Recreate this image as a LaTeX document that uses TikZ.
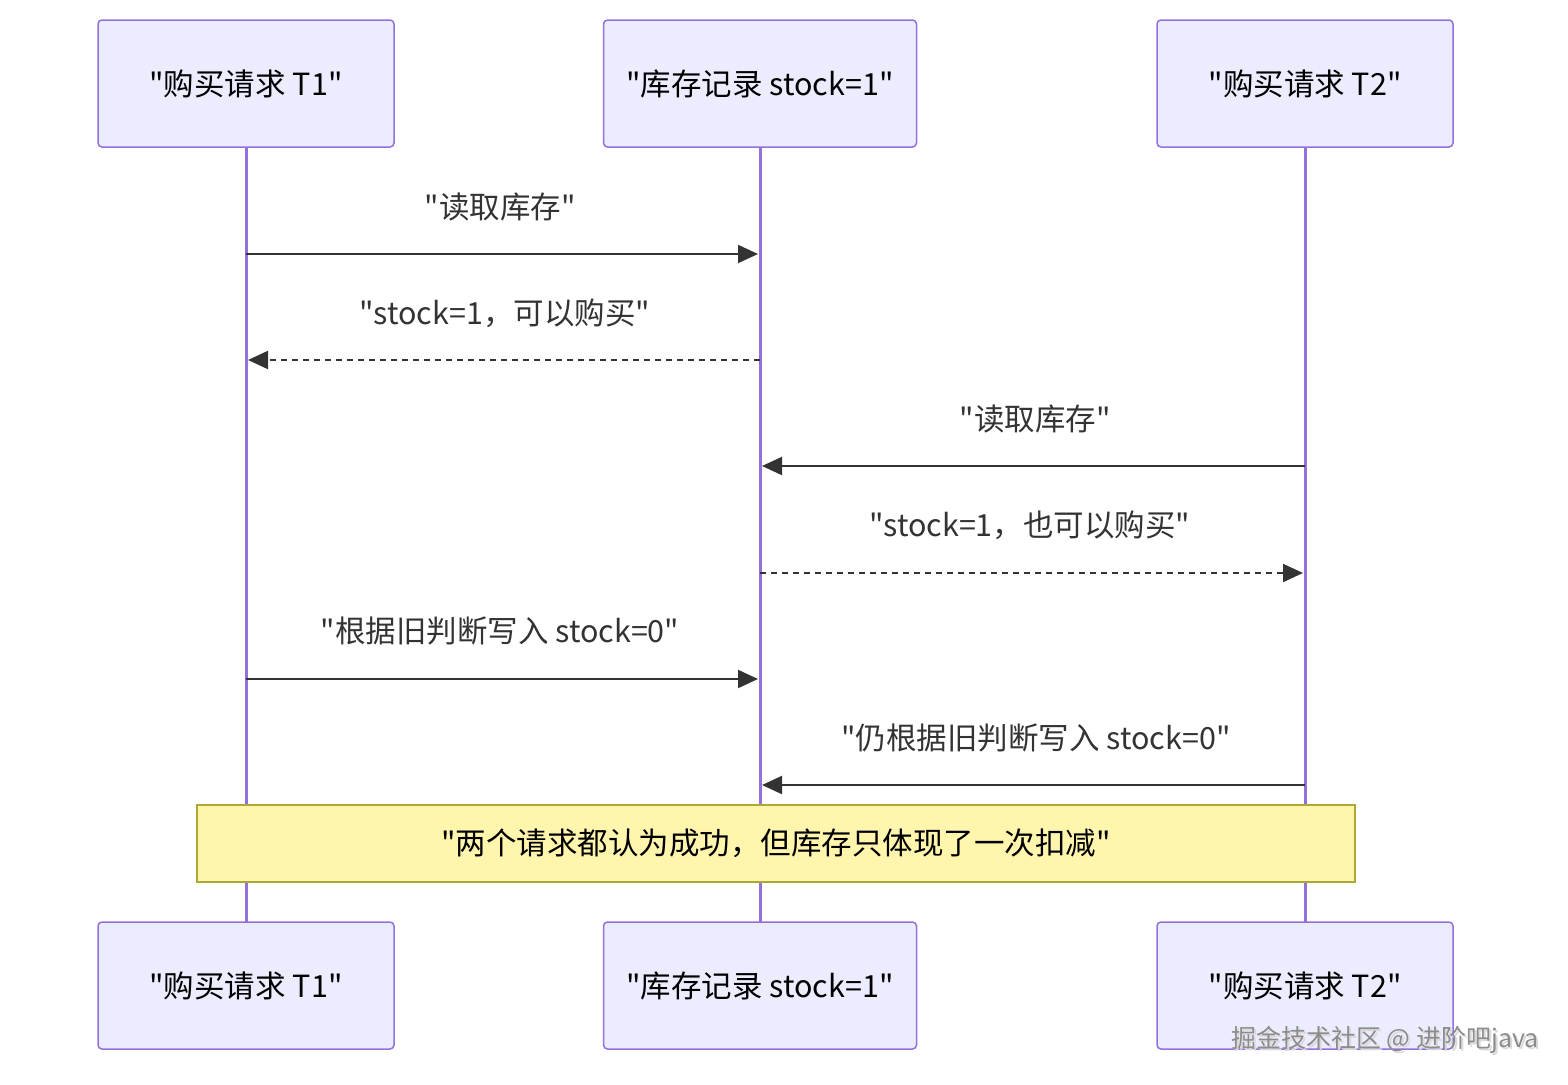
\documentclass[tikz,border=0pt]{standalone}
\usepackage{fontspec}
\setmainfont{Noto Sans CJK SC}[Ligatures=TeXOff]
\usetikzlibrary{arrows.meta}
\definecolor{actfill}{HTML}{ECECFF}
\definecolor{actline}{HTML}{9370DB}
\definecolor{txt}{HTML}{333333}
\definecolor{notefill}{HTML}{FFF5AD}
\definecolor{noteline}{HTML}{AAAA33}
\tikzset{
  txtfont/.style={font=\fontsize{30.5}{36}\selectfont},
  actor/.style={draw=actline, fill=actfill, line width=1.5pt, rounded corners=4pt,
    minimum width=296pt, minimum height=127pt, inner sep=0pt, txtfont, text=black},
  actorw/.style={actor, minimum width=313pt},
  life/.style={actline, line width=3pt},
  msg/.style={txt, line width=2pt, -{Triangle[length=20pt,width=18pt]}},
  reply/.style={msg, dash pattern=on 6pt off 5pt},
  lbl/.style={txtfont, text=txt, inner sep=0pt},
  note/.style={draw=noteline, fill=notefill, line width=1.5pt, minimum width=1158pt,
    minimum height=77pt, inner sep=0pt, txtfont, text=black},
  wmark/.style={font=\fontsize{25}{29}\selectfont, inner sep=0pt},
}
\begin{document}
\begin{tikzpicture}[x=1pt,y=-1pt]
\useasboundingbox (0,0) rectangle (1568,1084);
% lifelines
\coordinate (l1t) at (246,147); \coordinate (l1b) at (246,922);
\coordinate (l2t) at (760,147); \coordinate (l2b) at (760,922);
\coordinate (l3t) at (1305,147); \coordinate (l3b) at (1305,922);
\draw[life] (l1t) -- (l1b);
\draw[life] (l2t) -- (l2b);
\draw[life] (l3t) -- (l3b);
% actors
\node[actor] (a1) at (246,83.5) {"购买请求 T1"};
\node[actorw] (a2) at (760,83.5) {"库存记录 stock=1"};
\node[actor] (a3) at (1305,83.5) {"购买请求 T2"};
\node[actor] (b1) at (246,985.5) {"购买请求 T1"};
\node[actorw] (b2) at (760,985.5) {"库存记录 stock=1"};
\node[actor] (b3) at (1305,985.5) {"购买请求 T2"};
% message endpoints
\coordinate (m1s) at (246,254); \coordinate (m1e) at (758,254);
\coordinate (m2s) at (760,360); \coordinate (m2e) at (248,360);
\coordinate (m3s) at (1305,466); \coordinate (m3e) at (762,466);
\coordinate (m4s) at (760,573); \coordinate (m4e) at (1303,573);
\coordinate (m5s) at (246,679); \coordinate (m5e) at (758,679);
\coordinate (m6s) at (1305,785); \coordinate (m6e) at (762,785);
\draw[msg] (m1s) -- (m1e);
\draw[reply] (m2s) -- (m2e);
\draw[msg] (m3s) -- (m3e);
\draw[reply] (m4s) -- (m4e);
\draw[msg] (m5s) -- (m5e);
\draw[msg] (m6s) -- (m6e);
% labels
\node[lbl] (t1) at (500,207) {"读取库存"};
\node[lbl] (t2) at (505,313) {"stock=1，可以购买"};
\node[lbl] (t3) at (1035,419) {"读取库存"};
\node[lbl] (t4) at (1030,525) {"stock=1，也可以购买"};
\node[lbl] (t5) at (500,631) {"根据旧判断写入 stock=0"};
\node[lbl] (t6) at (1036,738) {"仍根据旧判断写入 stock=0"};
% note
\node[note] (n) at (776,843.5) {"两个请求都认为成功，但库存只体现了一次扣减"};
% watermark
\node[wmark, text=white!70!gray] (wms) at (1387,1042) {掘金技术社区 @ 进阶吧java};
\node[wmark, text=gray!90] (wm) at (1385,1040) {掘金技术社区 @ 进阶吧java};
\end{tikzpicture}
\end{document}
